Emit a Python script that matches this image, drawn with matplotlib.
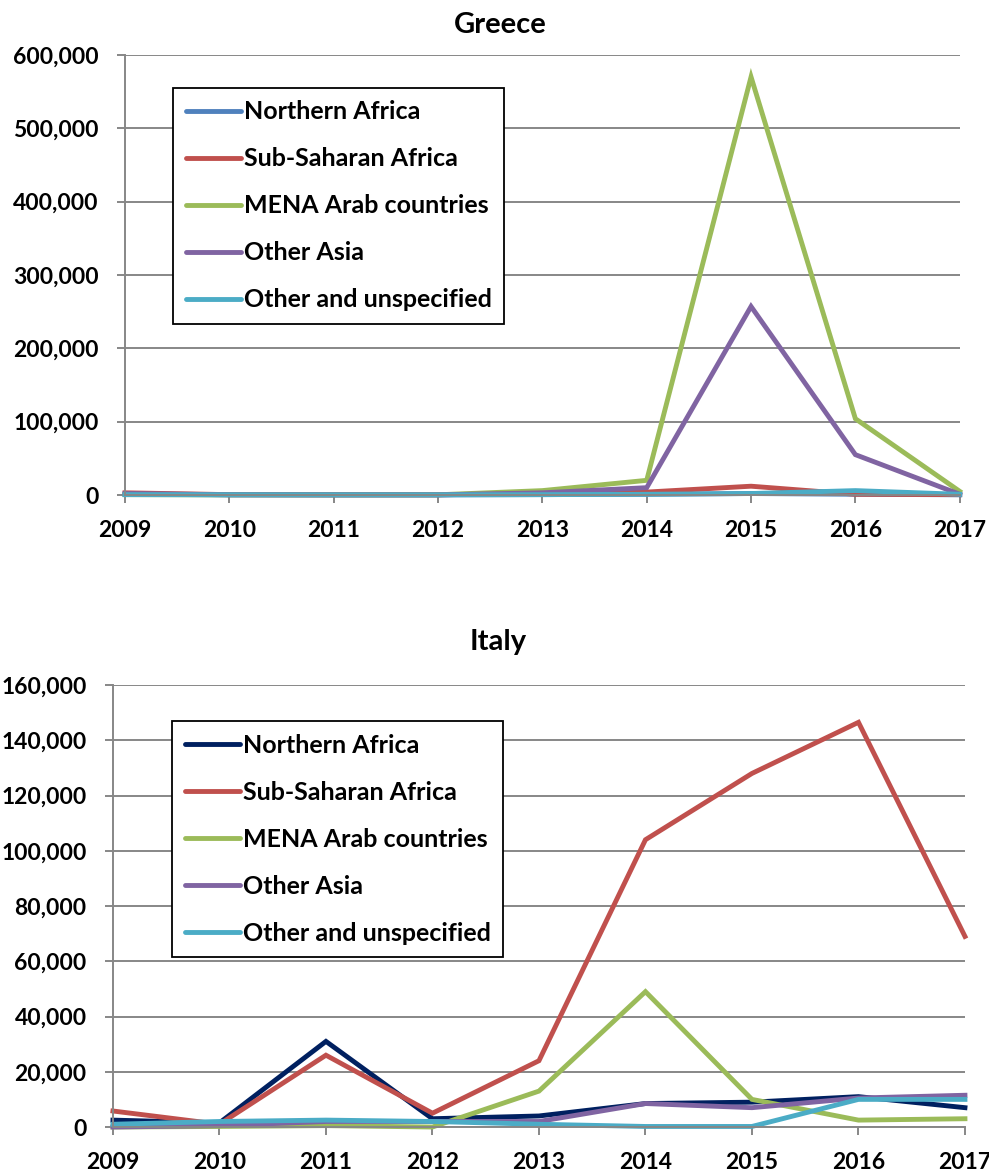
import matplotlib
matplotlib.use("Agg")
import matplotlib.pyplot as plt
from matplotlib.ticker import FuncFormatter, MultipleLocator

plt.rcParams['font.family'] = ['Lato', 'DejaVu Sans']
plt.rcParams['font.weight'] = 'bold'

years = [2009, 2010, 2011, 2012, 2013, 2014, 2015, 2016, 2017]
series = ["Northern Africa", "Sub-Saharan Africa", "MENA Arab countries",
          "Other Asia", "Other and unspecified"]

# Greece arrivals by region of origin
greece_northern_africa = [1000, 300, 200, 200, 500, 1000, 2000, 1000, 300]
greece_sub_saharan = [3000, 500, 300, 300, 2000, 4000, 12000, 1000, 500]
greece_mena = [500, 200, 200, 300, 6000, 20000, 570000, 104000, 5000]
greece_other_asia = [2000, 300, 200, 200, 3000, 10000, 257000, 55000, 1000]
greece_other = [500, 300, 200, 200, 500, 1000, 2000, 6000, 1000]

# Italy arrivals by region of origin
italy_northern_africa = [2500, 1500, 31000, 3000, 4000, 8500, 9000, 11000, 7000]
italy_sub_saharan = [5800, 1000, 26000, 5000, 24000, 104000, 128000, 146500, 69000]
italy_mena = [0, 200, 500, 0, 13000, 49000, 10000, 2500, 3000]
italy_other_asia = [0, 500, 2000, 2000, 2000, 8500, 7000, 10500, 11500]
italy_other = [1000, 2000, 2500, 2000, 1000, 200, 200, 10000, 10000]

greece_colors = ["#4F81BD", "#C0504D", "#9BBB59", "#8064A2", "#4BACC6"]
italy_colors = ["#002060", "#C0504D", "#9BBB59", "#8064A2", "#4BACC6"]

fig = plt.figure(figsize=(9.89, 11.73), dpi=100)
ax_g = fig.add_axes([0.1264, 0.578, 0.844, 0.3752])
ax_i = fig.add_axes([0.1142, 0.0392, 0.8615, 0.3768])

grid_color = "#878787"


def style_axes(ax, ymax, step, title, title_x, title_pad):
    ax.set_xlim(years[0], years[-1])
    ax.set_ylim(0, ymax)
    ax.yaxis.set_major_locator(MultipleLocator(step))
    ax.xaxis.set_major_locator(MultipleLocator(1))
    ax.yaxis.set_major_formatter(FuncFormatter(lambda v, p: f"{int(v):,}"))
    ax.grid(axis="y", color=grid_color, linewidth=1.4)
    ax.set_axisbelow(True)
    for side in ("top", "right"):
        ax.spines[side].set_visible(False)
    for side in ("left", "bottom"):
        ax.spines[side].set_color(grid_color)
        ax.spines[side].set_linewidth(1.4)
    ax.tick_params(axis="both", direction="out", length=6, width=1.4,
                   color=grid_color, labelsize=16.5)
    ax.tick_params(axis="x", pad=12)
    ax.tick_params(axis="y", pad=13)
    for lbl in ax.get_xticklabels() + ax.get_yticklabels():
        lbl.set_fontweight("bold")
    ax.set_title(title, fontsize=21, fontweight="bold", x=title_x,
                 pad=title_pad)


def draw(ax, data, colors, legend_anchor):
    for name, vals, c in zip(series, data, colors):
        ax.plot(years, vals, color=c, linewidth=3.5, label=name,
                solid_joinstyle="miter", clip_on=False)
    leg = ax.legend(loc="upper left", bbox_to_anchor=legend_anchor,
                    fancybox=False, edgecolor="black", framealpha=1,
                    prop={"weight": "bold", "size": 18},
                    handlelength=2.2, handletextpad=0.12, labelspacing=0.96,
                    borderpad=0.5, borderaxespad=0)
    leg.get_frame().set_linewidth(1.3)
    for line in leg.get_lines():
        line.set_linewidth(3.5)
        line.set_solid_capstyle("round")


draw(ax_g, [greece_northern_africa, greece_sub_saharan, greece_mena,
            greece_other_asia, greece_other], greece_colors, (0.0575, 0.925))
style_axes(ax_g, 600000, 100000, "Greece", 0.449, 16)

draw(ax_i, [italy_northern_africa, italy_sub_saharan, italy_mena,
            italy_other_asia, italy_other], italy_colors, (0.0698, 0.918))
style_axes(ax_i, 160000, 20000, "Italy", 0.452, 25)

fig.savefig("out.png", dpi=100)
